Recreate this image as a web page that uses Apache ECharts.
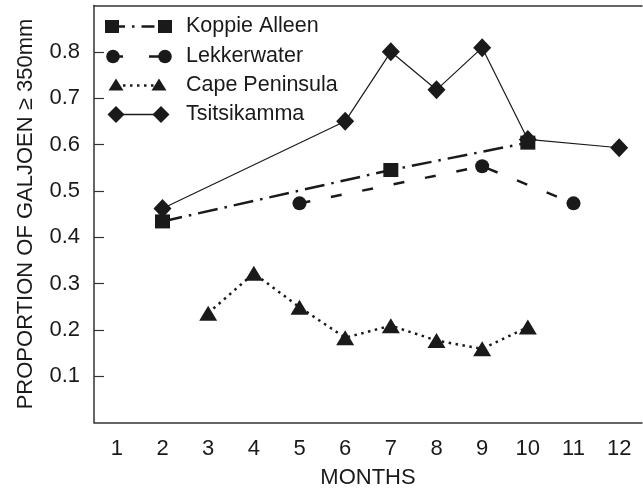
<!DOCTYPE html>
<html><head><meta charset="utf-8">
<script src="https://cdn.jsdelivr.net/npm/echarts@6/dist/echarts.min.js"></script>
<style>html,body{margin:0;padding:0;background:#fff}#c{width:643px;height:490px}</style>
</head><body><div id="c"></div>
<script>
const months = ['1','2','3','4','5','6','7','8','9','10','11','12'];
const koppieAlleen  = [null, 0.434, null, null, null, null, 0.545, null, null, 0.604, null, null];
const lekkerwater   = [null, null, null, null, 0.473, null, null, null, 0.553, null, 0.473, null];
const capePeninsula = [null, null, 0.236, 0.322, 0.249, 0.183, 0.209, 0.177, 0.159, 0.206, null, null];
const tsitsikamma   = [null, 0.462, null, null, null, 0.650, 0.800, 0.718, 0.809, 0.611, null, 0.593];
const seriesNames = ['Koppie Alleen', 'Lekkerwater', 'Cape Peninsula', 'Tsitsikamma'];
const yTickValues = [0.1, 0.2, 0.3, 0.4, 0.5, 0.6, 0.7, 0.8];

const FONT = '"Liberation Sans", Arial, Helvetica, sans-serif';
const INK = '#1a1a1a';
const AX = '#333';

const chart = echarts.init(document.getElementById('c'), null, {renderer: 'canvas'});

const styles = [
  {symbol: 'rect', size: [15, 14], dash: [20, 7, 2.5, 7], width: 2.5, legendDash: [13, 7, 2.5, 7]},
  {symbol: 'circle', size: 14, dash: [11, 21], width: 2.5, legendDash: [10, 26]},
  {symbol: 'triangle', size: [18, 15], dash: [2.5, 4.5], width: 2.5, legendDash: [2.5, 4.5]},
  {symbol: 'diamond', size: [18, 19], dash: 'solid', width: 1.2, legendDash: null}
];
const dataSets = [koppieAlleen, lekkerwater, capePeninsula, tsitsikamma];

const series = dataSets.map((d, i) => ({
  name: seriesNames[i],
  type: 'line',
  data: d,
  connectNulls: true,
  symbol: styles[i].symbol,
  symbolSize: styles[i].size,
  itemStyle: {color: INK},
  lineStyle: {color: INK, width: styles[i].width, type: styles[i].dash, cap: 'butt'},
  silent: true,
  animation: false,
  z: 2 + i
}));

// legend drawn as graphic (two symbols joined by the series line style)
const legendY = [26.5, 56.5, 85.5, 114.5];
const legendX = [[112, 165], [113, 165], [116, 159], [116, 161]];
const tx = 186;
const graphics = [];
function sym(kind, cx, cy) {
  const st = {fill: INK};
  if (kind === 'rect') return {type: 'rect', shape: {x: cx - 7, y: cy - 6.5, width: 14, height: 13}, style: st};
  if (kind === 'circle') return {type: 'circle', shape: {cx: cx, cy: cy, r: 6.8}, style: st};
  if (kind === 'triangle') return {type: 'polygon', shape: {points: [[cx, cy - 7], [cx + 7.5, cy + 5], [cx - 7.5, cy + 5]]}, style: st};
  return {type: 'polygon', shape: {points: [[cx, cy - 8.5], [cx + 8.5, cy], [cx, cy + 8.5], [cx - 8.5, cy]]}, style: st};
}
seriesNames.forEach((n, i) => {
  const y = legendY[i];
  const s = styles[i];
  const [a, b] = legendX[i];
  graphics.push({type: 'line', shape: {x1: a, y1: y, x2: b, y2: y},
    style: {stroke: INK, lineWidth: i === 3 ? 1.6 : s.width, lineDash: s.legendDash}, z: 10});
  graphics.push(Object.assign(sym(s.symbol, a, y), {z: 11}));
  graphics.push(Object.assign(sym(s.symbol, b, y), {z: 11}));
  graphics.push({type: 'text', x: tx, y: y, style: {text: n, fill: INK, font: '21.5px ' + FONT, verticalAlign: 'middle'}, z: 11});
});

chart.setOption({
  backgroundColor: '#fff',
  animation: false,
  grid: {left: 94, right: 1, top: 5.5, bottom: 67.5, containLabel: false, outerBoundsMode: 'none'},
  xAxis: [{
    type: 'category',
    data: months,
    boundaryGap: true,
    name: 'MONTHS',
    nameLocation: 'middle',
    nameGap: 44,
    nameTextStyle: {fontFamily: FONT, fontSize: 22, color: INK},
    axisLine: {lineStyle: {color: AX, width: 1.5}},
    axisTick: {inside: true, length: 9, lineStyle: {color: AX, width: 1.2}},
    axisLabel: {fontFamily: FONT, fontSize: 22, color: INK, margin: 15},
    splitLine: {show: false}
  }, {
    type: 'category',
    data: months,
    position: 'top',
    axisLine: {show: true, lineStyle: {color: AX, width: 1.5}},
    axisTick: {show: false},
    axisLabel: {show: false}
  }],
  yAxis: {
    type: 'value',
    min: 0,
    max: 0.9,
    interval: 0.1,
    name: 'PROPORTION OF GALJOEN \u2265 350mm',
    nameLocation: 'middle',
    nameRotate: 90,
    nameGap: 57,
    nameTextStyle: {fontFamily: FONT, fontSize: 22, color: INK},
    axisLine: {show: true, lineStyle: {color: AX, width: 1.5}},
    axisTick: {show: true, inside: true, length: 10, lineStyle: {color: AX, width: 1.2},
      customValues: yTickValues},
    axisLabel: {fontFamily: FONT, fontSize: 22, color: INK, margin: 14,
      customValues: yTickValues,
      formatter: v => v.toFixed(1)},
    splitLine: {show: false}
  },
  graphic: graphics,
  series: series
});
</script>
</body></html>
